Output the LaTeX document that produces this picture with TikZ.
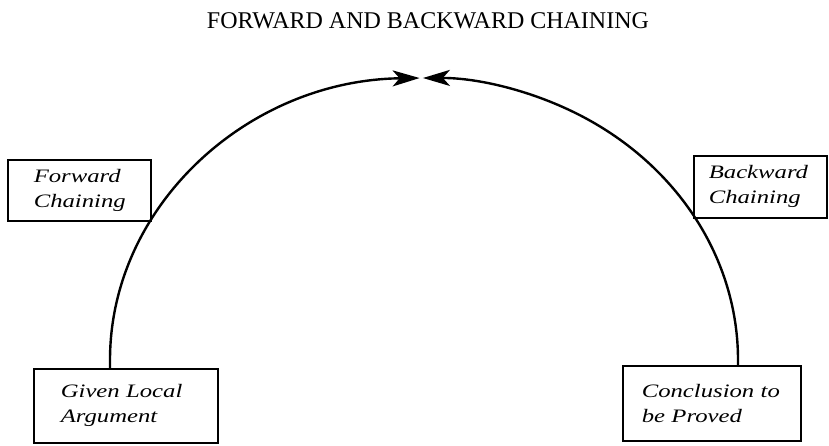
\documentclass[tikz,border=0pt]{standalone}
\usepackage{fontspec}
\setmainfont{Liberation Serif}
\newfontfamily\boxfont{Liberation Serif}[FakeStretch=1.3]
\usetikzlibrary{arrows.meta}
\begin{document}
\begin{tikzpicture}[x=1pt,y=1pt,
  lbl/.style={draw, line width=1.6pt, align=left, anchor=north west, inner ysep=0pt,
    font=\boxfont\itshape\fontsize{19}{25}\selectfont},
  arcline/.style={line width=2.4pt, -{Stealth[length=27pt,width=16pt,inset=7pt]}}]
\useasboundingbox (0,0) rectangle (829,-445);
\node (title) [anchor=base, font=\fontsize{24}{28}\selectfont] at (428,-28) {FORWARD AND BACKWARD CHAINING};
\node (fwd) [lbl, inner xsep=26pt, text width=91pt, minimum height=61pt] at (7,-159) {Forward\\Chaining};
\node (bwd) [lbl, inner xsep=15pt, text width=103pt, minimum height=62pt] at (693,-155) {Backward\\Chaining};
\node (given) [lbl, inner xsep=27pt, text width=130pt, minimum height=74pt] at (33,-368) {Given Local\\Argument};
\node (concl) [lbl, inner xsep=19pt, text width=140pt, minimum height=75pt] at (622,-365) {Conclusion to\\be Proved};
\coordinate (ga) at (110,-368);
\coordinate (cb) at (738,-365);
\draw[arcline] (ga) -- ++(0,8) arc[start angle=180, end angle=90.8, x radius=314, y radius=282];
\draw[arcline] (cb) -- ++(0,5) arc[start angle=0, end angle=90.2, x radius=314, y radius=282];
\end{tikzpicture}
\end{document}
